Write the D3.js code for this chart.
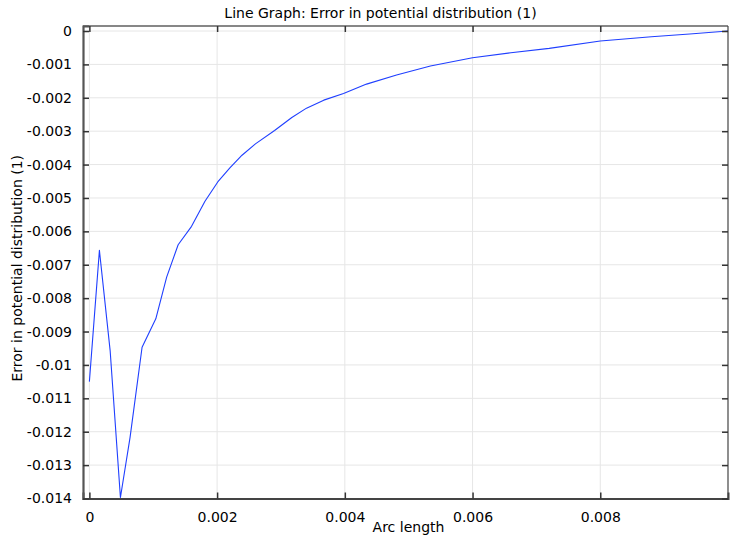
<!DOCTYPE html>
<html>
<head>
<meta charset="utf-8">
<script src="https://cdn.jsdelivr.net/npm/d3@7"></script>
<style>
  html, body { margin: 0; padding: 0; background: #fff; }
  text { font-family: "DejaVu Sans", sans-serif; fill: #000; }
</style>
</head>
<body>
<svg id="chart" width="731" height="540"></svg>
<script>
// Data (arc length vs error)
const arcLength = [0, 0.000157, 0.000325, 0.000486, 0.000637, 0.000825, 0.00104, 0.00121, 0.00139, 0.0016,
  0.00181, 0.00201, 0.0022, 0.00239, 0.0026, 0.0029, 0.00317, 0.0034, 0.00367, 0.00398,
  0.00434, 0.00481, 0.00534, 0.0060, 0.0066, 0.0072, 0.0080, 0.0088, 0.0094, 0.0100];
const errorValues = [-0.0105, -0.00657, -0.00957, -0.01397, -0.01217, -0.00947, -0.00862, -0.00737, -0.0064, -0.00585,
  -0.0051, -0.00452, -0.0041, -0.00372, -0.00338, -0.00298, -0.00259, -0.00231, -0.00207, -0.00187,
  -0.00159, -0.00132, -0.00105, -0.0008, -0.00065, -0.00052, -0.0003, -0.00017, -0.00009, 0];
const xTicks = [0, 0.002, 0.004, 0.006, 0.008];
const yTicks = [0, -0.001, -0.002, -0.003, -0.004, -0.005, -0.006, -0.007, -0.008, -0.009, -0.01, -0.011, -0.012, -0.013, -0.014];
const titleText = "Line Graph: Error in potential distribution (1)";
const xLabel = "Arc length";
const yLabel = "Error in potential distribution (1)";

const svg = d3.select("#chart");
const pLeft = 83, pRight = 728, pTop = 26, pBottom = 498.5;

const x = d3.scaleLinear().domain([-0.0001, 0.01]).range([pLeft, pRight]);
const y = d3.scaleLinear().domain([-0.014, 0.00015]).range([pBottom, pTop]);

// gridlines
const grid = svg.append("g");
grid.selectAll("line.gx").data(xTicks).join("line")
  .attr("x1", d => x(d)).attr("x2", d => x(d))
  .attr("y1", pTop).attr("y2", pBottom)
  .attr("stroke", "#e6e6e6").attr("stroke-width", 1);
grid.selectAll("line.gy").data(yTicks).join("line")
  .attr("x1", pLeft).attr("x2", pRight)
  .attr("y1", d => y(d)).attr("y2", d => y(d))
  .attr("stroke", "#e6e6e6").attr("stroke-width", 1);

// line
const lineData = arcLength.map((a, i) => [a, errorValues[i]]);
svg.append("path")
  .datum(lineData)
  .attr("fill", "none")
  .attr("stroke", "#1f3fff")
  .attr("stroke-width", 1.1)
  .attr("stroke-linejoin", "round")
  .attr("d", d3.line().x(d => x(d[0])).y(d => y(d[1])));

// frame
svg.append("line").attr("x1", pLeft).attr("x2", pRight).attr("y1", pTop).attr("y2", pTop)
  .attr("stroke", "#111").attr("stroke-width", 1.2);
svg.append("line").attr("x1", pRight).attr("x2", pRight).attr("y1", pTop).attr("y2", pBottom)
  .attr("stroke", "#444").attr("stroke-width", 1.2);

const fmt = d => d === 0 ? "0" : String(+d.toFixed(4));

// bottom axis
const xAxis = d3.axisBottom(x).tickValues(xTicks).tickSize(-6).tickPadding(14).tickFormat(fmt);
const gx = svg.append("g").attr("transform", `translate(0,${pBottom})`).call(xAxis);
gx.select(".domain").attr("stroke", "#444").attr("stroke-width", 2);
gx.selectAll(".tick line").attr("stroke", "#333").attr("stroke-width", 1.5);
gx.selectAll(".tick text").attr("font-size", 14).attr("font-family", "DejaVu Sans").attr("fill", "#000");

// top ticks
const xTop = d3.axisTop(x).tickValues(xTicks).tickSize(-6).tickFormat("");
const gxt = svg.append("g").attr("transform", `translate(0,${pTop})`).call(xTop);
gxt.select(".domain").remove();
gxt.selectAll(".tick line").attr("stroke", "#333").attr("stroke-width", 1.5);

// left axis
const yAxis = d3.axisLeft(y).tickValues(yTicks).tickSize(-6).tickPadding(11).tickFormat(fmt);
const gy = svg.append("g").attr("transform", `translate(${pLeft},0)`).call(yAxis);
gy.select(".domain").attr("stroke", "#555").attr("stroke-width", 2.2);
gy.selectAll(".tick line").attr("stroke", "#333").attr("stroke-width", 1.5);
gy.selectAll(".tick text").attr("font-size", 14).attr("font-family", "DejaVu Sans").attr("fill", "#000");

// right ticks
const yRight = d3.axisRight(y).tickValues(yTicks).tickSize(-6).tickFormat("");
const gyr = svg.append("g").attr("transform", `translate(${pRight},0)`).call(yRight);
gyr.select(".domain").remove();
gyr.selectAll(".tick line").attr("stroke", "#333").attr("stroke-width", 1.5);

// title & labels
svg.append("text").attr("x", (pLeft + pRight) / 2 - 25).attr("y", 18)
  .attr("text-anchor", "middle").attr("font-size", 14).text(titleText);
svg.append("text").attr("x", (pLeft + pRight) / 2 + 3).attr("y", 532)
  .attr("text-anchor", "middle").attr("font-size", 14).text(xLabel);
svg.append("text").attr("transform", `translate(22,${(pTop + pBottom) / 2 + 6}) rotate(-90)`)
  .attr("text-anchor", "middle").attr("font-size", 14).text(yLabel);
</script>
</body>
</html>
